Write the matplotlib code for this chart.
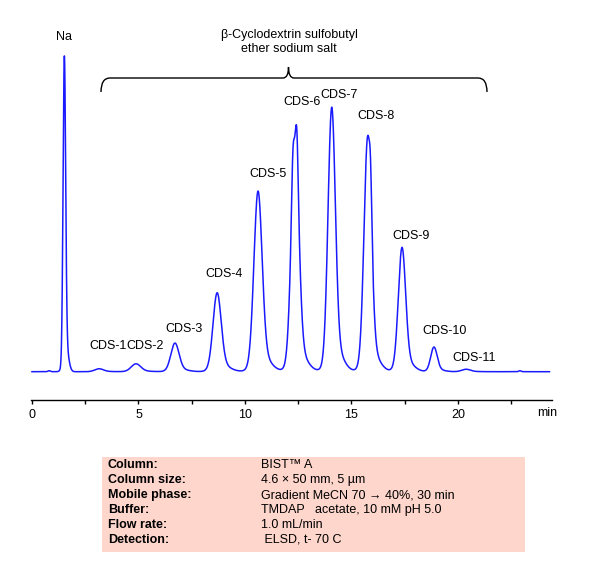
import numpy as np
import matplotlib
matplotlib.use("Agg")
import matplotlib.pyplot as plt
from matplotlib.path import Path
from matplotlib.patches import PathPatch, Rectangle

plt.rcParams['font.family'] = ['Liberation Sans', 'DejaVu Sans']

# ---- data (retention time in min, height in a.u., sigma in min) ----
peak_names = ["Na", "CDS-1", "CDS-2", "CDS-3", "CDS-4", "CDS-5",
              "CDS-6", "CDS-6 top a", "CDS-6 top b", "CDS-7",
              "CDS-8", "CDS-8 shoulder", "CDS-9", "CDS-10", "CDS-11", "imp-a", "imp-b"]
peak_times = [1.52, 3.15, 4.88, 6.71, 8.69, 10.61,
              12.35, 12.24, 12.44, 14.07,
              15.76, 15.90, 17.37, 18.87, 20.38, 0.80, 22.90]
peak_heights = [320, 3, 8, 29, 80, 183,
                222, 35, 42, 268,
                238, 35, 126, 25, 2.5, 1.0, 1.0]
peak_sigmas = [0.06, 0.20, 0.22, 0.19, 0.19, 0.19,
               0.18, 0.055, 0.055, 0.17,
               0.17, 0.05, 0.17, 0.15, 0.20, 0.05, 0.05]
tail_fraction = 0.08  # small tailing component

labels = ["Na", "CDS-1", "CDS-2", "CDS-3", "CDS-4", "CDS-5", "CDS-6", "CDS-7",
          "CDS-8", "CDS-9", "CDS-10", "CDS-11"]
label_px = [(64.3, 37), (108, 346), (145, 346), (184.3, 329), (224, 274), (267.5, 174),
            (302, 101.7), (339.3, 95), (376.3, 115.7), (411, 236), (445, 330.7), (473.7, 357.7)]

major_ticks = [0, 5, 10, 15, 20]
minor_ticks = [2.5, 7.5, 12.5, 17.5, 22.5]

table_keys = ["Column:", "Column size:", "Mobile phase:", "Buffer:", "Flow rate:", "Detection:"]
table_vals = ["BIST\u2122 A", "4.6 \u00d7 50 mm, 5 \u00b5m", "Gradient MeCN 70 \u2192 40%, 30 min",
              "TMDAP   acetate, 10 mM pH 5.0", "1.0 mL/min", " ELSD, t- 70 C"]

# ---- figure ----
W, H = 606, 574
fig = plt.figure(figsize=(W / 100, H / 100), dpi=100)

def fx(x):
    return x / W

def fy(y):
    return 1 - y / H

ax_left, ax_right = 30.7, 551.7
ax_top, ax_bot = 20, 400
ax = fig.add_axes([fx(ax_left), fy(ax_bot), (ax_right - ax_left) / W, (ax_bot - ax_top) / H])

t = np.arange(0, 24.3, 0.005)
sig = np.zeros_like(t)
for tr, h, s in zip(peak_times, peak_heights, peak_sigmas):
    sig += h * (1 - tail_fraction) * np.exp(-0.5 * ((t - tr) / s) ** 2)
    sig += h * tail_fraction * np.exp(-0.5 * ((t - tr - 1.2 * s) / (2.0 * s)) ** 2)

ax.plot(t, sig, color='#1a1aff', lw=1.1)

ax.set_xlim(-0.06, 24.4)
ax.set_ylim(-28.3, 351.7)
for sp in ['left', 'right', 'top']:
    ax.spines[sp].set_visible(False)
ax.spines['bottom'].set_linewidth(1.0)
ax.set_yticks([])
ax.set_xticks(major_ticks)
ax.set_xticks(minor_ticks, minor=True)
ax.set_xticklabels([str(v) for v in major_ticks], fontsize=9)
ax.tick_params(axis='x', which='both', direction='out', length=3, width=1.0, pad=3.5)
ax.patch.set_alpha(0)

fig.text(fx(547), fy(413), "min", fontsize=9, ha='center', va='center')

for lab, (x, y) in zip(labels, label_px):
    fig.text(fx(x), fy(y), lab, fontsize=9, ha='center', va='center')

# brace
def P(x, y):
    return (fx(x), fy(y))

verts = [P(101, 92), P(101, 78), P(110, 78), P(283, 78), P(288.5, 78), P(288.5, 67),
         P(288.5, 78), P(294, 78), P(478, 78), P(487, 78), P(487, 92)]
codes = [Path.MOVETO, Path.CURVE3, Path.CURVE3, Path.LINETO, Path.CURVE3, Path.CURVE3,
         Path.CURVE3, Path.CURVE3, Path.LINETO, Path.CURVE3, Path.CURVE3]
fig.add_artist(PathPatch(Path(verts, codes), transform=fig.transFigure, fill=False,
                         lw=1.0, color='black'))
fig.text(fx(289), fy(35), "\u03b2-Cyclodextrin sulfobutyl", fontsize=9, ha='center', va='center')
fig.text(fx(289), fy(49), "ether sodium salt", fontsize=9, ha='center', va='center')

# conditions table
fig.add_artist(Rectangle((fx(102), fy(551.7)), (525 - 102) / W, (551.7 - 456.7) / H,
                         transform=fig.transFigure, facecolor='#fed6cc', edgecolor='none'))
row0, dy = 465.5, 14.9
for i, (k, v) in enumerate(zip(table_keys, table_vals)):
    y = row0 + i * dy
    fig.text(fx(108), fy(y), k, fontsize=9, fontweight='bold', ha='left', va='center')
    fig.text(fx(261), fy(y), v, fontsize=9, ha='left', va='center')

fig.savefig("out.png", dpi=100)
